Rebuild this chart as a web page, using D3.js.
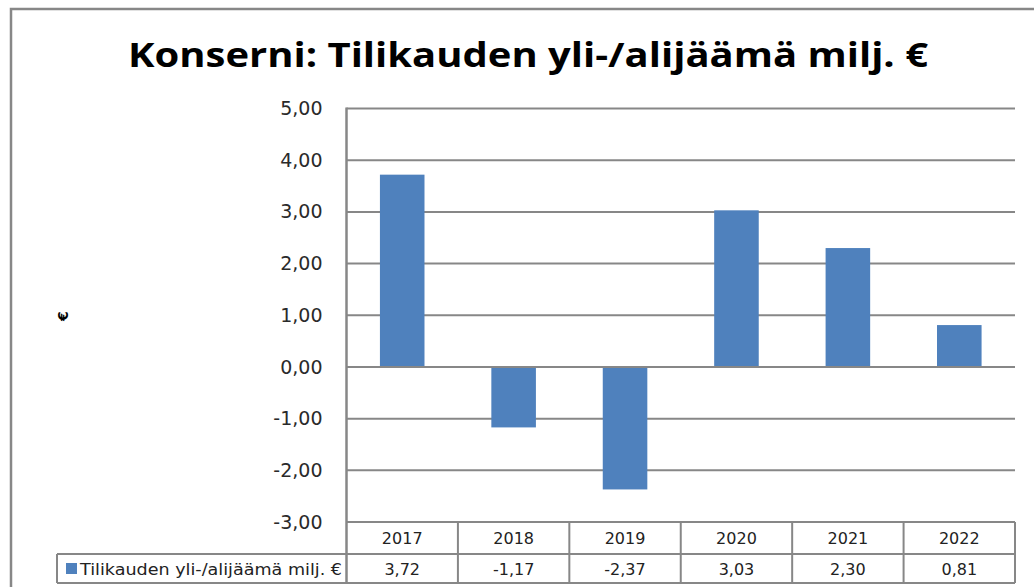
<!DOCTYPE html>
<html>
<head>
<meta charset="utf-8">
<script src="https://cdn.jsdelivr.net/npm/d3@7"></script>
<style>
  body { margin: 0; background: #fff; }
  svg { display: block; }
</style>
</head>
<body>
<svg id="chart"></svg>
<script>
// data
const years = ["2017", "2018", "2019", "2020", "2021", "2022"];
const values = [3.72, -1.17, -2.37, 3.03, 2.30, 0.81];
const yTicks = [-3, -2, -1, 0, 1, 2, 3, 4, 5];
const seriesName = "Tilikauden yli-/alijäämä milj. €";
const titleText = "Konserni: Tilikauden yli-/alijäämä milj. €";

const width = 1034, height = 587;
const plot = { left: 346.5, right: 1015, top: 108.5, bottom: 522 };
const table = { legendLeft: 57, rowTop: 522, rowMid: 554, rowBottom: 583 };
const gridColor = "#878787";
const barColor = "#4F81BD";
const fmt = (v) => v.toFixed(2).replace(".", ",");

const svg = d3.select("#chart").attr("width", width).attr("height", height);

// ulkoreunus
svg.append("rect")
  .attr("x", 11).attr("y", 9)
  .attr("width", width + 20).attr("height", height + 20)
  .attr("fill", "white")
  .attr("stroke", gridColor)
  .attr("stroke-width", 2.5);

// otsikko
svg.append("text")
  .attr("x", 528).attr("y", 67)
  .attr("text-anchor", "middle")
  .attr("font-family", "'Open Sans', 'DejaVu Sans', sans-serif")
  .attr("font-weight", "bold")
  .attr("font-size", 34)
  .attr("textLength", 800)
  .attr("lengthAdjust", "spacingAndGlyphs")
  .attr("fill", "#000")
  .text(titleText);

// skaalat
const x = d3.scaleBand()
  .domain(years)
  .range([plot.left, plot.right])
  .paddingInner(0.6)
  .paddingOuter(0.3);
const y = d3.scaleLinear().domain([-3, 5]).range([plot.bottom, plot.top]);

// ruudukko
svg.append("g")
  .selectAll("line")
  .data(yTicks)
  .join("line")
  .attr("x1", plot.left).attr("x2", plot.right)
  .attr("y1", (d) => y(d)).attr("y2", (d) => y(d))
  .attr("stroke", gridColor)
  .attr("stroke-width", 2);

// y-akseli
const yAxis = d3.axisLeft(y).tickValues(yTicks).tickSize(0).tickPadding(24).tickFormat(fmt);
const yAxisG = svg.append("g")
  .attr("transform", `translate(${plot.left},0)`)
  .call(yAxis);
yAxisG.select(".domain").remove();
yAxisG.selectAll("text")
  .attr("font-family", "'DejaVu Sans', sans-serif")
  .attr("font-size", 19)
  .attr("fill", "#2a2a2a");

svg.append("line")
  .attr("x1", plot.left).attr("x2", plot.left)
  .attr("y1", plot.top - 1).attr("y2", table.rowBottom)
  .attr("stroke", gridColor)
  .attr("stroke-width", 2.5);

// akselin otsikko
svg.append("text")
  .attr("transform", "translate(68,316) rotate(-90)")
  .attr("text-anchor", "middle")
  .attr("font-family", "'DejaVu Sans', sans-serif")
  .attr("font-weight", "bold")
  .attr("font-size", 14)
  .text("€");

// pylväät
svg.append("g")
  .selectAll("rect")
  .data(values)
  .join("rect")
  .attr("x", (d, i) => x(years[i]))
  .attr("width", x.bandwidth())
  .attr("y", (d) => y(Math.max(0, d)))
  .attr("height", (d) => Math.abs(y(d) - y(0)))
  .attr("fill", barColor);

// nollaviiva pylväiden päälle
svg.append("line")
  .attr("x1", plot.left).attr("x2", plot.right)
  .attr("y1", y(0)).attr("y2", y(0))
  .attr("stroke", gridColor)
  .attr("stroke-width", 2);

// datataulukko
const tg = svg.append("g").attr("stroke", gridColor).attr("stroke-width", 2).attr("fill", "none");
const step = x.step();
const colEdges = years.map((d, i) => plot.left + i * step).concat([plot.right]);
tg.selectAll("line.col")
  .data(colEdges.slice(1))
  .join("line")
  .attr("class", "col")
  .attr("x1", (d) => d).attr("x2", (d) => d)
  .attr("y1", table.rowTop).attr("y2", table.rowBottom);
tg.append("line")
  .attr("x1", table.legendLeft).attr("x2", plot.right)
  .attr("y1", table.rowMid).attr("y2", table.rowMid);
tg.append("line")
  .attr("x1", table.legendLeft).attr("x2", plot.right)
  .attr("y1", table.rowBottom).attr("y2", table.rowBottom);
tg.append("line")
  .attr("x1", table.legendLeft).attr("x2", table.legendLeft)
  .attr("y1", table.rowMid).attr("y2", table.rowBottom);

const cellFont = (sel) => sel
  .attr("font-family", "'DejaVu Sans', sans-serif")
  .attr("font-size", 16)
  .attr("fill", "#222");

svg.append("g")
  .selectAll("text")
  .data(years)
  .join("text")
  .attr("x", (d) => x(d) + x.bandwidth() / 2)
  .attr("y", (table.rowTop + table.rowMid) / 2 + 6)
  .attr("text-anchor", "middle")
  .call(cellFont)
  .text((d) => d);

svg.append("g")
  .selectAll("text")
  .data(values)
  .join("text")
  .attr("x", (d, i) => x(years[i]) + x.bandwidth() / 2)
  .attr("y", (table.rowMid + table.rowBottom) / 2 + 6)
  .attr("text-anchor", "middle")
  .call(cellFont)
  .text(fmt);

// selite
svg.append("rect")
  .attr("x", 66).attr("y", 563)
  .attr("width", 11).attr("height", 11)
  .attr("fill", barColor);
svg.append("text")
  .attr("x", 80).attr("y", (table.rowMid + table.rowBottom) / 2 + 6)
  .call(cellFont)
  .attr("textLength", 262)
  .attr("lengthAdjust", "spacingAndGlyphs")
  .text(seriesName);
</script>
</body>
</html>
